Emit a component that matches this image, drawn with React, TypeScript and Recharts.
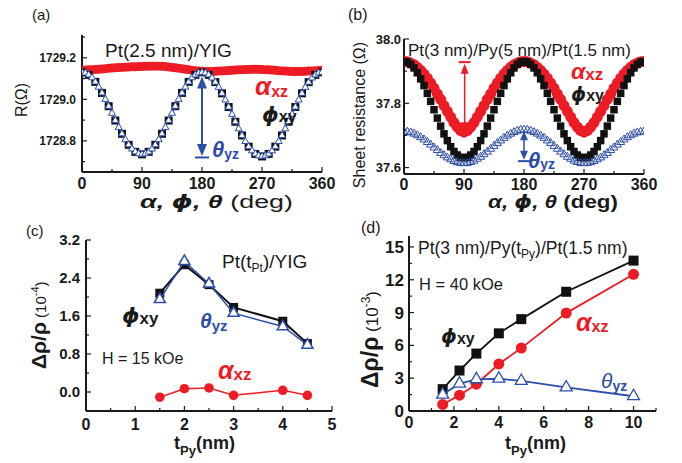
import React from "react";
import { ScatterChart, Scatter, XAxis, YAxis, ReferenceLine } from "recharts";

const FONT = '"Liberation Sans", Arial, Helvetica, "DejaVu Sans", sans-serif';
const GREEK = '"DejaVu Sans", "Liberation Sans", sans-serif';
const RED = "#ed1c24";
const BLUE = "#2c4ea6";
const INK = "#1a1a1a";

// ---- (a) Pt(2.5 nm)/YIG : R vs angle ----
const ANG5 = [
  0, 5, 10, 15, 20, 25, 30, 35, 40, 45, 50, 55, 60, 65, 70, 75, 80, 85, 90, 95, 100, 105, 110, 115, 120,
  125, 130, 135, 140, 145, 150, 155, 160, 165, 170, 175, 180, 185, 190, 195, 200, 205, 210, 215, 220, 225,
  230, 235, 240, 245, 250, 255, 260, 265, 270, 275, 280, 285, 290, 295, 300, 305, 310, 315, 320, 325, 330,
  335, 340, 345, 350, 355, 360,
];
const ANG10 = [
  0, 10, 20, 30, 40, 50, 60, 70, 80, 90, 100, 110, 120, 130, 140, 150, 160, 170, 180, 190, 200, 210, 220,
  230, 240, 250, 260, 270, 280, 290, 300, 310, 320, 330, 340, 350, 360,
];
const aAlphaXZ = [
  1729.14, 1729.141, 1729.142, 1729.143, 1729.144, 1729.145, 1729.146, 1729.148, 1729.15, 1729.151, 1729.152,
  1729.153, 1729.154, 1729.155, 1729.156, 1729.157, 1729.157, 1729.158, 1729.158, 1729.159, 1729.159, 1729.16,
  1729.16, 1729.16, 1729.159, 1729.158, 1729.156, 1729.154, 1729.152, 1729.15, 1729.148, 1729.145, 1729.143,
  1729.14, 1729.138, 1729.136, 1729.135, 1729.134, 1729.134, 1729.134, 1729.135, 1729.136, 1729.137, 1729.138,
  1729.139, 1729.14, 1729.141, 1729.142, 1729.143, 1729.144, 1729.144, 1729.145, 1729.145, 1729.145, 1729.144,
  1729.143, 1729.142, 1729.141, 1729.14, 1729.138, 1729.137, 1729.136, 1729.135, 1729.134, 1729.134, 1729.134,
  1729.134, 1729.135, 1729.136, 1729.137, 1729.138, 1729.139, 1729.14,
];
const aPhiXY = [
  1729.13, 1729.118, 1729.084, 1729.031, 1728.967, 1728.898, 1728.834, 1728.781, 1728.747, 1728.735, 1728.747,
  1728.781, 1728.834, 1728.898, 1728.967, 1729.031, 1729.084, 1729.118, 1729.13, 1729.118, 1729.083, 1729.029,
  1728.963, 1728.892, 1728.826, 1728.772, 1728.737, 1728.725, 1728.737, 1728.772, 1728.826, 1728.892, 1728.963,
  1729.029, 1729.083, 1729.118, 1729.13,
];
const aThetaYZ = [
  1729.13, 1729.127, 1729.118, 1729.104, 1729.084, 1729.059, 1729.031, 1729.0, 1728.967, 1728.933, 1728.898,
  1728.865, 1728.834, 1728.806, 1728.781, 1728.761, 1728.747, 1728.738, 1728.735, 1728.738, 1728.747, 1728.761,
  1728.781, 1728.806, 1728.834, 1728.865, 1728.898, 1728.933, 1728.967, 1729.0, 1729.031, 1729.059, 1729.084,
  1729.104, 1729.118, 1729.127, 1729.13, 1729.127, 1729.118, 1729.103, 1729.083, 1729.058, 1729.029, 1728.997,
  1728.963, 1728.928, 1728.892, 1728.858, 1728.826, 1728.797, 1728.772, 1728.752, 1728.737, 1728.728, 1728.725,
  1728.728, 1728.737, 1728.752, 1728.772, 1728.797, 1728.826, 1728.858, 1728.892, 1728.928, 1728.963, 1728.997,
  1729.029, 1729.058, 1729.083, 1729.103, 1729.118, 1729.127, 1729.13,
];

// ---- (b) Pt(3 nm)/Py(5 nm)/Pt(1.5 nm) : sheet resistance vs angle ----
const bAlphaXZ = [
  37.93, 37.929, 37.925, 37.92, 37.912, 37.902, 37.891, 37.878, 37.863, 37.847, 37.829, 37.812, 37.793, 37.775,
  37.757, 37.74, 37.726, 37.715, 37.71, 37.715, 37.726, 37.74, 37.757, 37.775, 37.793, 37.812, 37.829, 37.847,
  37.863, 37.878, 37.891, 37.902, 37.912, 37.92, 37.925, 37.929, 37.93, 37.929, 37.925, 37.92, 37.912, 37.902,
  37.891, 37.878, 37.863, 37.847, 37.829, 37.812, 37.793, 37.775, 37.757, 37.74, 37.726, 37.715, 37.71, 37.715,
  37.726, 37.74, 37.757, 37.775, 37.793, 37.812, 37.829, 37.847, 37.863, 37.878, 37.891, 37.902, 37.912, 37.92,
  37.925, 37.929, 37.93,
];
const bPhiXY = [
  37.93, 37.928, 37.921, 37.91, 37.895, 37.876, 37.855, 37.831, 37.806, 37.78, 37.754, 37.729, 37.705, 37.684,
  37.665, 37.65, 37.639, 37.632, 37.63, 37.632, 37.639, 37.65, 37.665, 37.684, 37.705, 37.729, 37.754, 37.78,
  37.806, 37.831, 37.855, 37.876, 37.895, 37.91, 37.921, 37.928, 37.93, 37.928, 37.921, 37.91, 37.895, 37.876,
  37.855, 37.831, 37.806, 37.78, 37.754, 37.729, 37.705, 37.684, 37.665, 37.65, 37.639, 37.632, 37.63, 37.632,
  37.639, 37.65, 37.665, 37.684, 37.705, 37.729, 37.754, 37.78, 37.806, 37.831, 37.855, 37.876, 37.895, 37.91,
  37.921, 37.928, 37.93,
];
const bThetaYZ = [
  37.712, 37.711, 37.709, 37.705, 37.7, 37.694, 37.687, 37.679, 37.671, 37.662, 37.654, 37.645, 37.638, 37.631,
  37.625, 37.62, 37.616, 37.614, 37.613, 37.614, 37.617, 37.621, 37.627, 37.633, 37.641, 37.649, 37.658, 37.667,
  37.676, 37.684, 37.692, 37.699, 37.705, 37.71, 37.714, 37.717, 37.718, 37.717, 37.714, 37.71, 37.705, 37.699,
  37.692, 37.684, 37.676, 37.667, 37.658, 37.649, 37.641, 37.633, 37.627, 37.621, 37.617, 37.614, 37.613, 37.614,
  37.616, 37.62, 37.625, 37.631, 37.638, 37.645, 37.654, 37.662, 37.671, 37.679, 37.687, 37.694, 37.7, 37.705,
  37.709, 37.711, 37.712,
];

// ---- (c) Pt(tPt)/YIG, 15 kOe : Δρ/ρ (1e-4) vs thickness ----
const cThick = [1.5, 2, 2.5, 3, 4, 4.5];
const cPhiXY = [2.08, 2.68, 2.26, 1.78, 1.49, 1.02];
const cThetaYZ = [1.95, 2.75, 2.28, 1.66, 1.38, 0.99];
const cAlphaXZ = [-0.11, 0.07, 0.085, -0.07, 0.036, -0.07];

// ---- (d) Pt(3 nm)/Py(tPy)/Pt(1.5 nm), 40 kOe : Δρ/ρ (1e-3) vs thickness ----
const dThick = [1.5, 2.25, 3, 4, 5, 7, 10];
const dPhiXY = [2.0, 3.7, 5.25, 7.1, 8.4, 10.9, 13.75];
const dAlphaXZ = [0.6, 1.45, 2.45, 4.3, 5.75, 8.95, 12.5];
const dThetaYZ = [1.5, 2.5, 2.9, 2.95, 2.75, 2.15, 1.35];

// ticks (all) and labelled ticks (majors)
const AB_XTICKS = [0, 45, 90, 135, 180, 225, 270, 315, 360];
const AB_XMAJ = [0, 90, 180, 270, 360];
const A_YTICKS = [1728.7, 1728.8, 1728.9, 1729.0, 1729.1, 1729.2, 1729.3];
const A_YMAJ = [1728.8, 1729.0, 1729.2];
const B_YTICKS = [37.6, 37.7, 37.8, 37.9, 38.0];
const B_YMAJ = [37.6, 37.8, 38.0];
const C_XTICKS = [0, 0.5, 1, 1.5, 2, 2.5, 3, 3.5, 4, 4.5, 5];
const C_XMAJ = [0, 1, 2, 3, 4, 5];
const C_YTICKS = [0, 0.4, 0.8, 1.2, 1.6, 2.0, 2.4, 2.8, 3.2];
const C_YMAJ = [0, 0.8, 1.6, 2.4, 3.2];
const D_XTICKS = [0, 1, 2, 3, 4, 5, 6, 7, 8, 9, 10, 11];
const D_XMAJ = [0, 2, 4, 6, 8, 10];
const D_YTICKS = [0, 1.5, 3, 4.5, 6, 7.5, 9, 10.5, 12, 13.5, 15];
const D_YMAJ = [0, 3, 6, 9, 12, 15];

const pts = (xs: number[], ys: number[]) => xs.map((x, i) => ({ x, y: ys[i] }));
const isMajor = (majors: number[], v: number) => majors.some((m) => Math.abs(m - v) < 1e-9);

// marker shapes
const square = (s: number, fill: string) => (p: any) => (
  <rect x={p.cx - s / 2} y={p.cy - s / 2} width={s} height={s} fill={fill} />
);
const dot = (r: number, fill: string) => (p: any) => <circle cx={p.cx} cy={p.cy} r={r} fill={fill} />;
const tri = (s: number, stroke: string, fill: string, sw: number) => (p: any) => {
  const h = s * 0.87;
  const pt = `${p.cx},${p.cy - (h * 2) / 3} ${p.cx - s / 2},${p.cy + h / 3} ${p.cx + s / 2},${p.cy + h / 3}`;
  return <polygon points={pt} fill={fill} stroke={stroke} strokeWidth={sw} strokeLinejoin="miter" />;
};

// tick renderers (ticks point inward, minors shorter)
const bottomTick = (maj: number[], fs: number, off: number, fmt: (v: number) => string) => (p: any) => {
  const v = p.payload.value;
  const m = isMajor(maj, v);
  return (
    <g>
      <line x1={p.x} x2={p.x} y1={p.y} y2={p.y - (m ? 5 : 3)} stroke={INK} strokeWidth={1.2} />
      {m && (
        <text x={p.x} y={p.y + off} textAnchor="middle" fontSize={fs} fontWeight="bold" fontFamily={FONT} fill={INK}>
          {fmt(v)}
        </text>
      )}
    </g>
  );
};
const topTick = (maj: number[]) => (p: any) => {
  const m = isMajor(maj, p.payload.value);
  return <line x1={p.x} x2={p.x} y1={p.y} y2={p.y + (m ? 5 : 3)} stroke={INK} strokeWidth={1.2} />;
};
const leftTick = (maj: number[], fs: number, gap: number, fmt: (v: number) => string) => (p: any) => {
  const v = p.payload.value;
  const m = isMajor(maj, v);
  return (
    <g>
      <line x1={p.x} x2={p.x + (m ? 5 : 3)} y1={p.y} y2={p.y} stroke={INK} strokeWidth={1.2} />
      {m && (
        <text x={p.x - gap} y={p.y + fs * 0.36} textAnchor="end" fontSize={fs} fontWeight="bold" fontFamily={FONT} fill={INK}>
          {fmt(v)}
        </text>
      )}
    </g>
  );
};
const rightTick = (maj: number[]) => (p: any) => {
  const m = isMajor(maj, p.payload.value);
  return <line x1={p.x} x2={p.x - (m ? 5 : 3)} y1={p.y} y2={p.y} stroke={INK} strokeWidth={1.2} />;
};

// vertical double arrow drawn through ReferenceLine's shape
type ArrowOpts = { color: string; w: number; head: number; len: number; bar: number; topBar?: boolean; botBar?: boolean };
const vArrow = (o: ArrowOpts) => (p: any) => {
  const x = p.x1;
  const top = Math.min(p.y1, p.y2);
  const bot = Math.max(p.y1, p.y2);
  const tt = o.topBar ? top + 1.5 : top;
  const bt = o.botBar ? bot - 1.5 : bot;
  return (
    <g>
      <line x1={x} x2={x} y1={tt + o.len - 1} y2={bt - o.len + 1} stroke={o.color} strokeWidth={o.w} />
      <polygon points={`${x},${tt} ${x - o.head / 2},${tt + o.len} ${x + o.head / 2},${tt + o.len}`} fill={o.color} />
      <polygon points={`${x},${bt} ${x - o.head / 2},${bt - o.len} ${x + o.head / 2},${bt - o.len}`} fill={o.color} />
      {o.topBar && <line x1={x - o.bar / 2} x2={x + o.bar / 2} y1={top} y2={top} stroke={o.color} strokeWidth={2} />}
      {o.botBar && <line x1={x - o.bar / 2} x2={x + o.bar / 2} y1={bot} y2={bot} stroke={o.color} strokeWidth={2} />}
    </g>
  );
};

const frame = { stroke: INK, strokeWidth: 2 };

type PanelProps = {
  left: number;
  top: number;
  w: number;
  h: number;
  mTop: number;
  mRight: number;
  yW: number;
  xH: number;
  xDom: [number, number];
  yDom: [number, number];
  xTicks: number[];
  xMaj: number[];
  yTicks: number[];
  yMaj: number[];
  xFs: number;
  xOff: number;
  yFs: number;
  yGap: number;
  yFmt: (v: number) => string;
  children: React.ReactNode;
};

function Panel(p: PanelProps) {
  return (
    <div style={{ position: "absolute", left: p.left, top: p.top }}>
      <ScatterChart width={p.w} height={p.h} margin={{ top: p.mTop, right: p.mRight, bottom: 0, left: 0 }}>
        <XAxis
          xAxisId="b"
          type="number"
          dataKey="x"
          domain={p.xDom}
          ticks={p.xTicks}
          interval={0}
          allowDataOverflow
          height={p.xH}
          tickSize={0}
          tickMargin={0}
          tickLine={false}
          axisLine={frame}
          tick={bottomTick(p.xMaj, p.xFs, p.xOff, (v) => String(v))}
        />
        <XAxis
          xAxisId="t"
          orientation="top"
          type="number"
          domain={p.xDom}
          ticks={p.xTicks}
          interval={0}
          allowDataOverflow
          height={0}
          tickSize={0}
          tickMargin={0}
          tickLine={false}
          axisLine={frame}
          tick={topTick(p.xMaj)}
        />
        <YAxis
          yAxisId="l"
          type="number"
          dataKey="y"
          domain={p.yDom}
          ticks={p.yTicks}
          interval={0}
          allowDataOverflow
          width={p.yW}
          tickSize={0}
          tickMargin={0}
          tickLine={false}
          axisLine={frame}
          tick={leftTick(p.yMaj, p.yFs, p.yGap, p.yFmt)}
        />
        <YAxis
          yAxisId="r"
          orientation="right"
          type="number"
          domain={p.yDom}
          ticks={p.yTicks}
          interval={0}
          allowDataOverflow
          width={0}
          tickSize={0}
          tickMargin={0}
          tickLine={false}
          axisLine={frame}
          tick={rightTick(p.yMaj)}
        />
        {p.children}
      </ScatterChart>
    </div>
  );
}

function Sym(props: {
  x: number;
  y: number;
  g: string;
  sub: string;
  color: string;
  gs: number;
  ss: number;
  dy?: number;
  bold?: boolean;
}) {
  const { x, y, g, sub, color, gs, ss, dy = 2, bold = true } = props;
  return (
    <text x={x} y={y} fill={color} fontFamily={FONT}>
      <tspan fontSize={gs} fontWeight={bold ? "bold" : "normal"} fontStyle="italic" fontFamily={g === "ϕ" ? GREEK : FONT}>
        {g}
      </tspan>
      <tspan fontSize={ss} fontWeight="bold" dy={dy}>
        {sub}
      </tspan>
    </text>
  );
}

export default function App() {
  return (
    <div style={{ position: "absolute", left: 0, top: 0, width: 682, height: 463, background: "#fff", fontFamily: FONT }}>
      {/* (a) */}
      <Panel
        left={0}
        top={0}
        w={341}
        h={231}
        mTop={35}
        mRight={19}
        yW={82}
        xH={59}
        xDom={[0, 360]}
        yDom={[1728.65, 1729.31]}
        xTicks={AB_XTICKS}
        xMaj={AB_XMAJ}
        yTicks={A_YTICKS}
        yMaj={A_YMAJ}
        xFs={16}
        xOff={17}
        yFs={12}
        yGap={6}
        yFmt={(v) => v.toFixed(1)}
      >
        <Scatter xAxisId="b" yAxisId="l" data={pts(ANG5, aAlphaXZ)} shape={dot(4.5, RED)} isAnimationActive={false} />
        <Scatter xAxisId="b" yAxisId="l" data={pts(ANG10, aPhiXY)} shape={square(8, "#111")} isAnimationActive={false} />
        <Scatter
          xAxisId="b"
          yAxisId="l"
          data={pts(ANG5, aThetaYZ)}
          shape={tri(7, BLUE, "#fff", 1)}
          line={{ stroke: BLUE, strokeWidth: 1.2 }}
          isAnimationActive={false}
        />
        <ReferenceLine
          xAxisId="b"
          yAxisId="l"
          segment={[
            { x: 180, y: 1729.11 },
            { x: 180, y: 1728.72 },
          ]}
          shape={vArrow({ color: BLUE, w: 2, head: 10, len: 12, bar: 14, botBar: true })}
        />
      </Panel>

      {/* (b) */}
      <Panel
        left={341}
        top={0}
        w={341}
        h={231}
        mTop={39}
        mRight={38}
        yW={63}
        xH={57}
        xDom={[0, 360]}
        yDom={[37.58, 38.0]}
        xTicks={AB_XTICKS}
        xMaj={AB_XMAJ}
        yTicks={B_YTICKS}
        yMaj={B_YMAJ}
        xFs={16}
        xOff={16}
        yFs={13}
        yGap={3}
        yFmt={(v) => v.toFixed(1)}
      >
        <Scatter xAxisId="b" yAxisId="l" data={pts(ANG5, bAlphaXZ)} shape={dot(5.5, RED)} isAnimationActive={false} />
        <Scatter xAxisId="b" yAxisId="l" data={pts(ANG5, bPhiXY)} shape={square(7.5, "#111")} isAnimationActive={false} />
        <Scatter xAxisId="b" yAxisId="l" data={pts(ANG5, bThetaYZ)} shape={tri(8, BLUE, "none", 1)} isAnimationActive={false} />
        <ReferenceLine
          xAxisId="b"
          yAxisId="l"
          segment={[
            { x: 91, y: 37.928 },
            { x: 91, y: 37.71 },
          ]}
          shape={vArrow({ color: RED, w: 1.5, head: 8, len: 10, bar: 12, topBar: true })}
        />
        <ReferenceLine
          xAxisId="b"
          yAxisId="l"
          segment={[
            { x: 180, y: 37.713 },
            { x: 180, y: 37.62 },
          ]}
          shape={vArrow({ color: BLUE, w: 1.5, head: 8, len: 9, bar: 12, botBar: true })}
        />
      </Panel>

      {/* (c) */}
      <Panel
        left={0}
        top={231}
        w={341}
        h={232}
        mTop={9}
        mRight={9}
        yW={86}
        xH={52}
        xDom={[0, 5]}
        yDom={[-0.4, 3.2]}
        xTicks={C_XTICKS}
        xMaj={C_XMAJ}
        yTicks={C_YTICKS}
        yMaj={C_YMAJ}
        xFs={16}
        xOff={19}
        yFs={15}
        yGap={6}
        yFmt={(v) => v.toFixed(1)}
      >
        <Scatter
          xAxisId="b"
          yAxisId="l"
          data={pts(cThick, cPhiXY)}
          shape={square(9, "#111")}
          line={{ stroke: "#111", strokeWidth: 2 }}
          isAnimationActive={false}
        />
        <Scatter
          xAxisId="b"
          yAxisId="l"
          data={pts(cThick, cThetaYZ)}
          shape={tri(11, BLUE, "#fff", 1.5)}
          line={{ stroke: BLUE, strokeWidth: 1.5 }}
          isAnimationActive={false}
        />
        <Scatter
          xAxisId="b"
          yAxisId="l"
          data={pts(cThick, cAlphaXZ)}
          shape={dot(4.8, RED)}
          line={{ stroke: RED, strokeWidth: 1.5 }}
          isAnimationActive={false}
        />
      </Panel>

      {/* (d) */}
      <Panel
        left={341}
        top={231}
        w={341}
        h={232}
        mTop={5}
        mRight={26}
        yW={68}
        xH={52}
        xDom={[0, 11]}
        yDom={[0, 16]}
        xTicks={D_XTICKS}
        xMaj={D_XMAJ}
        yTicks={D_YTICKS}
        yMaj={D_YMAJ}
        xFs={16}
        xOff={17}
        yFs={17}
        yGap={5}
        yFmt={(v) => String(v)}
      >
        <Scatter
          xAxisId="b"
          yAxisId="l"
          data={pts(dThick, dPhiXY)}
          shape={square(10, "#111")}
          line={{ stroke: "#111", strokeWidth: 1.8 }}
          isAnimationActive={false}
        />
        <Scatter
          xAxisId="b"
          yAxisId="l"
          data={pts(dThick, dAlphaXZ)}
          shape={dot(5.5, RED)}
          line={{ stroke: RED, strokeWidth: 1.8 }}
          isAnimationActive={false}
        />
        <Scatter
          xAxisId="b"
          yAxisId="l"
          data={pts(dThick, dThetaYZ)}
          shape={tri(12, BLUE, "#fff", 1.3)}
          line={{ stroke: BLUE, strokeWidth: 1.8 }}
          isAnimationActive={false}
        />
      </Panel>

      {/* labels and annotations */}
      <svg width={682} height={463} style={{ position: "absolute", left: 0, top: 0, pointerEvents: "none" }}>
        <g fontFamily={FONT} fill={INK}>
          <text x={32} y={20} fontSize={15}>(a)</text>
          <text x={348} y={20} fontSize={16}>(b)</text>
          <text x={26} y={236} fontSize={15}>(c)</text>
          <text x={361} y={233} fontSize={16}>(d)</text>

          <text x={105} y={57} fontSize={19}>Pt(2.5 nm)/YIG</text>
          <text x={408} y={56} fontSize={17}>Pt(3 nm)/Py(5 nm)/Pt(1.5 nm)</text>
          <text x={222} y={268} fontSize={19}>
            Pt(t<tspan fontSize={12} dy={4}>Pt</tspan>
            <tspan dy={-4}>)/YIG</tspan>
          </text>
          <text x={102} y={364} fontSize={16}>H = 15 kOe</text>
          <text x={418} y={254} fontSize={17.5}>
            Pt(3 nm)/Py(t<tspan fontSize={12} dy={4}>Py</tspan>
            <tspan dy={-4}>)/Pt(1.5 nm)</tspan>
          </text>
          <text x={419} y={290} fontSize={16.5}>H = 40 kOe</text>

          {/* x-axis titles */}
          <text x={140} y={208} fontSize={18} textLength={153} lengthAdjust="spacingAndGlyphs">
            <tspan fontWeight="bold" fontStyle="italic">α, </tspan>
            <tspan fontWeight="bold" fontStyle="italic" fontFamily={GREEK}>ϕ</tspan>
            <tspan fontWeight="bold" fontStyle="italic">, θ</tspan> (deg)
          </text>
          <text x={488} y={208} fontSize={18} fontWeight="bold" textLength={130} lengthAdjust="spacingAndGlyphs">
            <tspan fontStyle="italic">α, </tspan>
            <tspan fontStyle="italic" fontFamily={GREEK}>ϕ</tspan>
            <tspan fontStyle="italic">, θ</tspan> (deg)
          </text>
          <text x={174} y={449} fontSize={18} fontWeight="bold">
            t<tspan fontSize={13} dy={6}>Py</tspan>
            <tspan dy={-6}>(nm)</tspan>
          </text>
          <text x={505} y={449} fontSize={18} fontWeight="bold">
            t<tspan fontSize={13} dy={6}>Py</tspan>
            <tspan dy={-6}>(nm)</tspan>
          </text>

          {/* y-axis titles */}
          <text transform="translate(27,100) rotate(-90)" textAnchor="middle" fontSize={16}>R(Ω)</text>
          <text transform="translate(365,115) rotate(-90)" textAnchor="middle" fontSize={16}>Sheet resistance (Ω)</text>
          <text transform="translate(46,369) rotate(-90)" fontSize={21}>
            <tspan fontWeight="bold">Δρ/ρ</tspan>
            <tspan fontSize={15}> (10</tspan>
            <tspan fontSize={11} dy={-7}>-4</tspan>
            <tspan fontSize={15} dy={7}>)</tspan>
          </text>
          <text transform="translate(378,388) rotate(-90)" fontSize={23}>
            <tspan fontWeight="bold">Δρ/ρ</tspan>
            <tspan fontSize={17}> (10</tspan>
            <tspan fontSize={12} dy={-8}>-3</tspan>
            <tspan fontSize={17} dy={8}>)</tspan>
          </text>
        </g>

        {/* series tags */}
        <Sym x={255} y={95} g="α" sub="xz" color={RED} gs={26} ss={16} />
        <Sym x={262} y={122} g="ϕ" sub="xy" color={INK} gs={21} ss={16} dy={0} />
        <Sym x={212} y={157} g="θ" sub="yz" color={BLUE} gs={22} ss={14} dy={2} />

        <Sym x={571} y={79} g="α" sub="xz" color={RED} gs={23} ss={17} dy={1} />
        <Sym x={571} y={101} g="ϕ" sub="xy" color={INK} gs={19} ss={16} dy={0} />
        <Sym x={528} y={168} g="θ" sub="yz" color={BLUE} gs={22} ss={14} dy={1} />

        <Sym x={122} y={323} g="ϕ" sub="xy" color={INK} gs={22} ss={17} dy={1} />
        <Sym x={200} y={328} g="θ" sub="yz" color={BLUE} gs={21} ss={15} dy={3} />
        <Sym x={218} y={379} g="α" sub="xz" color={RED} gs={25} ss={17} dy={1} />

        <Sym x={441} y={343} g="ϕ" sub="xy" color={INK} gs={20} ss={16} dy={1} />
        <Sym x={576} y={331} g="α" sub="xz" color={RED} gs={25} ss={16} dy={1} />
        <Sym x={601} y={388} g="θ" sub="yz" color={BLUE} gs={21} ss={14} dy={3} bold={false} />
      </svg>
    </div>
  );
}
